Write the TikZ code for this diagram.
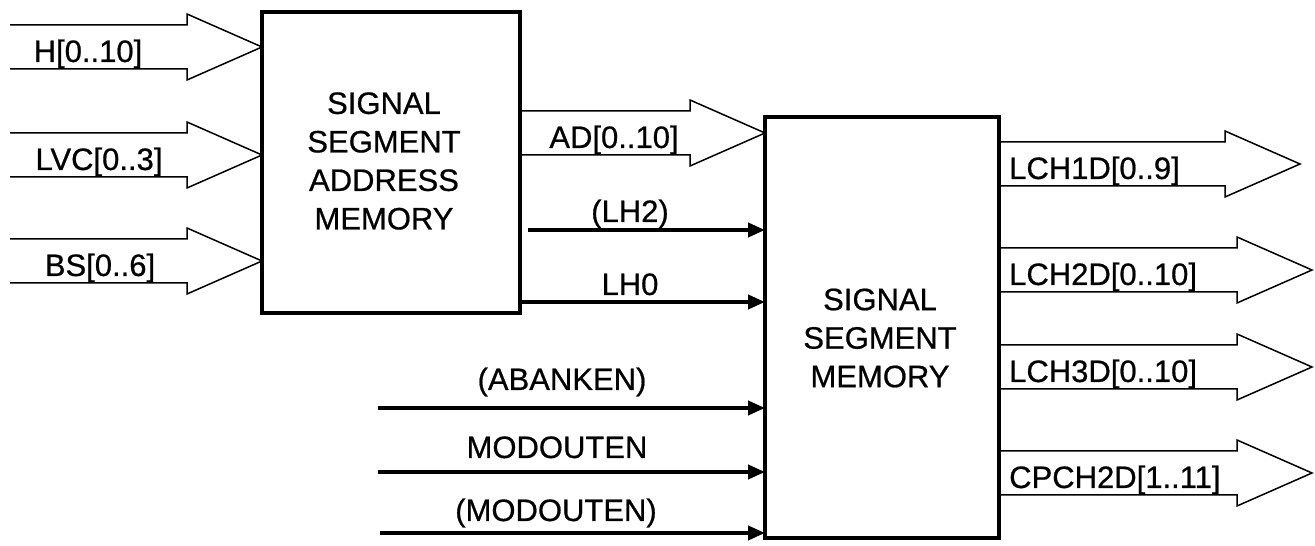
\documentclass[tikz,border=0pt]{standalone}
\usepackage{fontspec}
\setmainfont{Liberation Sans}
\newfontfamily\heavysans{Liberation Sans}[FakeBold=0.6]
\usetikzlibrary{calc,arrows.meta}
\tikzset{
  blk/.style={draw, line width=4pt, inner sep=0pt, outer sep=0pt},
  bus/.style={line width=1.5pt, line join=miter},
  sig/.style={line width=4pt, -{Triangle[length=17pt,width=14pt]}},
  lbl/.style={font=\heavysans\fontsize{31}{38}\selectfont, inner sep=0pt, anchor=base},
  boxtxt/.style={font=\heavysans\fontsize{31}{38.5}\selectfont, align=center, inner sep=0pt}
}
\newcommand\busarrow[2]{\draw[bus] let \p1=(#1), \p2=(#2) in
  (\x1,\y2+22pt) -- (\x2-75pt,\y2+22pt) -- (\x2-75pt,\y2+33pt) -- (\x2,\y2)
  -- (\x2-75pt,\y2-33pt) -- (\x2-75pt,\y2-22pt) -- (\x1,\y2-22pt);}
\begin{document}
\begin{tikzpicture}[x=1pt,y=1pt]
\fill[white] (0,0) rectangle (1315,546);
\useasboundingbox (0,0) rectangle (1315,546);
% blocks
\node[blk, minimum width=258pt, minimum height=301pt] (ssam) at (391,383.5) {};
\node[boxtxt] (ssamt) at (384,385) {SIGNAL\\SEGMENT\\ADDRESS\\MEMORY};
\node[blk, minimum width=234pt, minimum height=421pt] (ssm) at (882,218.5) {};
\node[boxtxt] (ssmt) at (880,208) {SIGNAL\\SEGMENT\\MEMORY};
% input buses
\coordinate (hS) at (10,499);   \coordinate (hT) at (ssam.west |- hS);
\coordinate (lvS) at (10,391);  \coordinate (lvT) at (ssam.west |- lvS);
\coordinate (bsS) at (10,285);  \coordinate (bsT) at (ssam.west |- bsS);
\busarrow{hS}{hT}
\busarrow{lvS}{lvT}
\busarrow{bsS}{bsT}
\node[lbl] (hL) at (88,484) {H[0..10]};
\node[lbl] (lvL) at (99,376) {LVC[0..3]};
\node[lbl] (bsL) at (100,270) {BS[0..6]};
% AD bus
\coordinate (adS) at (ssam.east |- 0,413); \coordinate (adT) at (ssm.west |- adS);
\busarrow{adS}{adT}
\node[lbl] (adL) at (614,398) {AD[0..10]};
% output buses
\coordinate (o1S) at (ssm.east |- 0,382); \coordinate (o1T) at (1300,382);
\coordinate (o2S) at (ssm.east |- 0,276); \coordinate (o2T) at (1312,276);
\coordinate (o3S) at (ssm.east |- 0,179); \coordinate (o3T) at (1312,179);
\coordinate (o4S) at (ssm.east |- 0,73);  \coordinate (o4T) at (1312,73);
\busarrow{o1S}{o1T}
\busarrow{o2S}{o2T}
\busarrow{o3S}{o3T}
\busarrow{o4S}{o4T}
\node[lbl, anchor=base west] (o1L) at (1009,367) {LCH1D[0..9]};
\node[lbl, anchor=base west] (o2L) at (1009,261) {LCH2D[0..10]};
\node[lbl, anchor=base west] (o3L) at (1009,164) {LCH3D[0..10]};
\node[lbl, anchor=base west] (o4L) at (1009,58) {CPCH2D[1..11]};
% signals
\coordinate (lh2S) at (528,316);
\coordinate (lh0S) at (ssam.east |- 0,244);
\coordinate (abS) at (378,138);
\coordinate (moS) at (378,74);
\coordinate (mnS) at (380,13);
\draw[sig] (lh2S) -- (lh2S -| ssm.west);
\draw[sig] (lh0S) -- (lh0S -| ssm.west);
\draw[sig] (abS) -- (abS -| ssm.west);
\draw[sig] (moS) -- (moS -| ssm.west);
\draw[sig] (mnS) -- (mnS -| ssm.west);
\node[lbl] (lh2L) at (630,324) {(LH2)};
\node[lbl] (lh0L) at (630,251) {LH0};
\node[lbl] (abL) at (562,156) {(ABANKEN)};
\node[lbl] (moL) at (557,88) {MODOUTEN};
\node[lbl] (mnL) at (556,25) {(MODOUTEN)};
\end{tikzpicture}
\end{document}
